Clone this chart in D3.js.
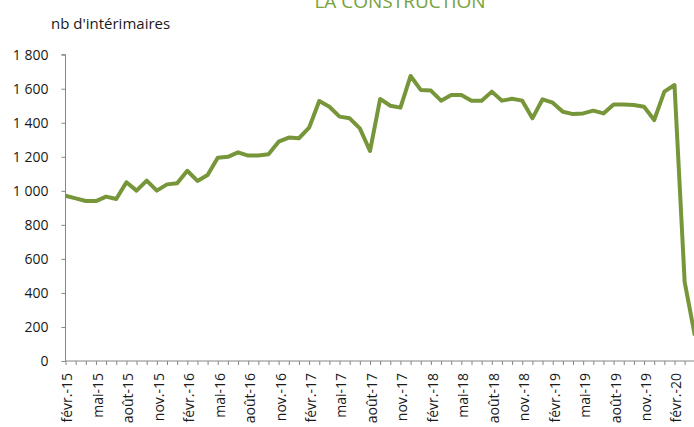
<!DOCTYPE html>
<html><head><meta charset="utf-8">
<script src="https://cdn.jsdelivr.net/npm/d3@7/dist/d3.min.js"></script>
<style>
html,body{margin:0;padding:0;background:#fff;overflow:hidden;}
svg{display:block;font-family:"Open Sans",sans-serif;}
</style></head>
<body>
<svg id="chart" width="694" height="427"></svg>
<script>
const title = "LA CONSTRUCTION";
const yAxisTitle = "nb d'intérimaires";
const months = [
 "févr.-15","mars-15","avr.-15","mai-15","juin-15","juil.-15","août-15","sept.-15","oct.-15","nov.-15","déc.-15",
 "janv.-16","févr.-16","mars-16","avr.-16","mai-16","juin-16","juil.-16","août-16","sept.-16","oct.-16","nov.-16","déc.-16",
 "janv.-17","févr.-17","mars-17","avr.-17","mai-17","juin-17","juil.-17","août-17","sept.-17","oct.-17","nov.-17","déc.-17",
 "janv.-18","févr.-18","mars-18","avr.-18","mai-18","juin-18","juil.-18","août-18","sept.-18","oct.-18","nov.-18","déc.-18",
 "janv.-19","févr.-19","mars-19","avr.-19","mai-19","juin-19","juil.-19","août-19","sept.-19","oct.-19","nov.-19","déc.-19",
 "janv.-20","févr.-20","mars-20","avr.-20"
];
const values = [
 971,956,940,940,966,952,1050,1001,1060,1001,1038,
 1044,1118,1058,1093,1195,1200,1226,1207,1208,1215,1289,1313,
 1309,1371,1528,1494,1436,1426,1367,1234,1540,1500,1489,1675,
 1593,1589,1530,1563,1563,1530,1530,1583,1530,1541,1530,1426,
 1538,1518,1465,1451,1455,1471,1455,1508,1508,1504,1494,1416,
 1583,1622,465,150
];
const yTicks = [0,200,400,600,800,1000,1200,1400,1600,1800];
const labelEvery = 3;

const svg = d3.select("#chart");
const x0 = 65.5, y0 = 361, yTop = 54.7, step = 10.15;
const x = d3.scaleLinear().domain([0, months.length - 1]).range([x0, x0 + step * (months.length - 1)]);
const y = d3.scaleLinear().domain([0, 1800]).range([y0, yTop]);
const fmt = v => d3.format(",")(v).replace(/,/g, "\u202f");

const axisColor = "#868686";

// Title (cut at top)
svg.append("text").attr("x", 400).attr("y", 8).attr("text-anchor", "middle")
  .attr("font-size", 19).attr("fill", "#78a23c").text(title);

// Y axis title
svg.append("text").attr("x", 51).attr("y", 29).attr("font-size", 15).attr("fill", "#1a1a1a").text(yAxisTitle);

// Y axis
const yAxis = d3.axisLeft(y).tickValues(yTicks).tickSize(4).tickPadding(13).tickFormat(d => fmt(d).replace("\u202f", " "));
const gy = svg.append("g").attr("transform", `translate(${x0},0)`).call(yAxis);
gy.select(".domain").attr("stroke", axisColor).attr("d", `M-4,${yTop}H0V${y0}`);
gy.selectAll(".tick line").attr("stroke", axisColor);
gy.selectAll(".tick text").attr("font-size", 14).attr("fill", "#1a1a1a").attr("font-family", "Open Sans");

// X axis
const idx = d3.range(months.length);
const xAxis = d3.axisBottom(x).tickValues(idx).tickSize(4).tickFormat("");
const gx = svg.append("g").attr("transform", `translate(0,${y0})`).call(xAxis);
gx.select(".domain").attr("stroke", axisColor).attr("d", `M${x0},0H694`);
gx.selectAll(".tick line").attr("stroke", axisColor);

// X labels
svg.append("g").selectAll("text")
  .data(idx.filter(i => i % labelEvery === 0))
  .join("text")
  .attr("transform", i => `translate(${x(i) + 2},${y0 + 12}) rotate(-90)`)
  .attr("text-anchor", "end")
  .attr("dy", "0.35em")
  .attr("font-size", 14)
  .attr("fill", "#1a1a1a")
  .text(i => months[i]);

// Line
const line = d3.line().x((d, i) => x(i)).y(d => y(d));
svg.append("path").datum(values)
  .attr("d", line)
  .attr("fill", "none")
  .attr("stroke", "#77963a")
  .attr("stroke-width", 4)
  .attr("stroke-linejoin", "round");
</script>
</body></html>
